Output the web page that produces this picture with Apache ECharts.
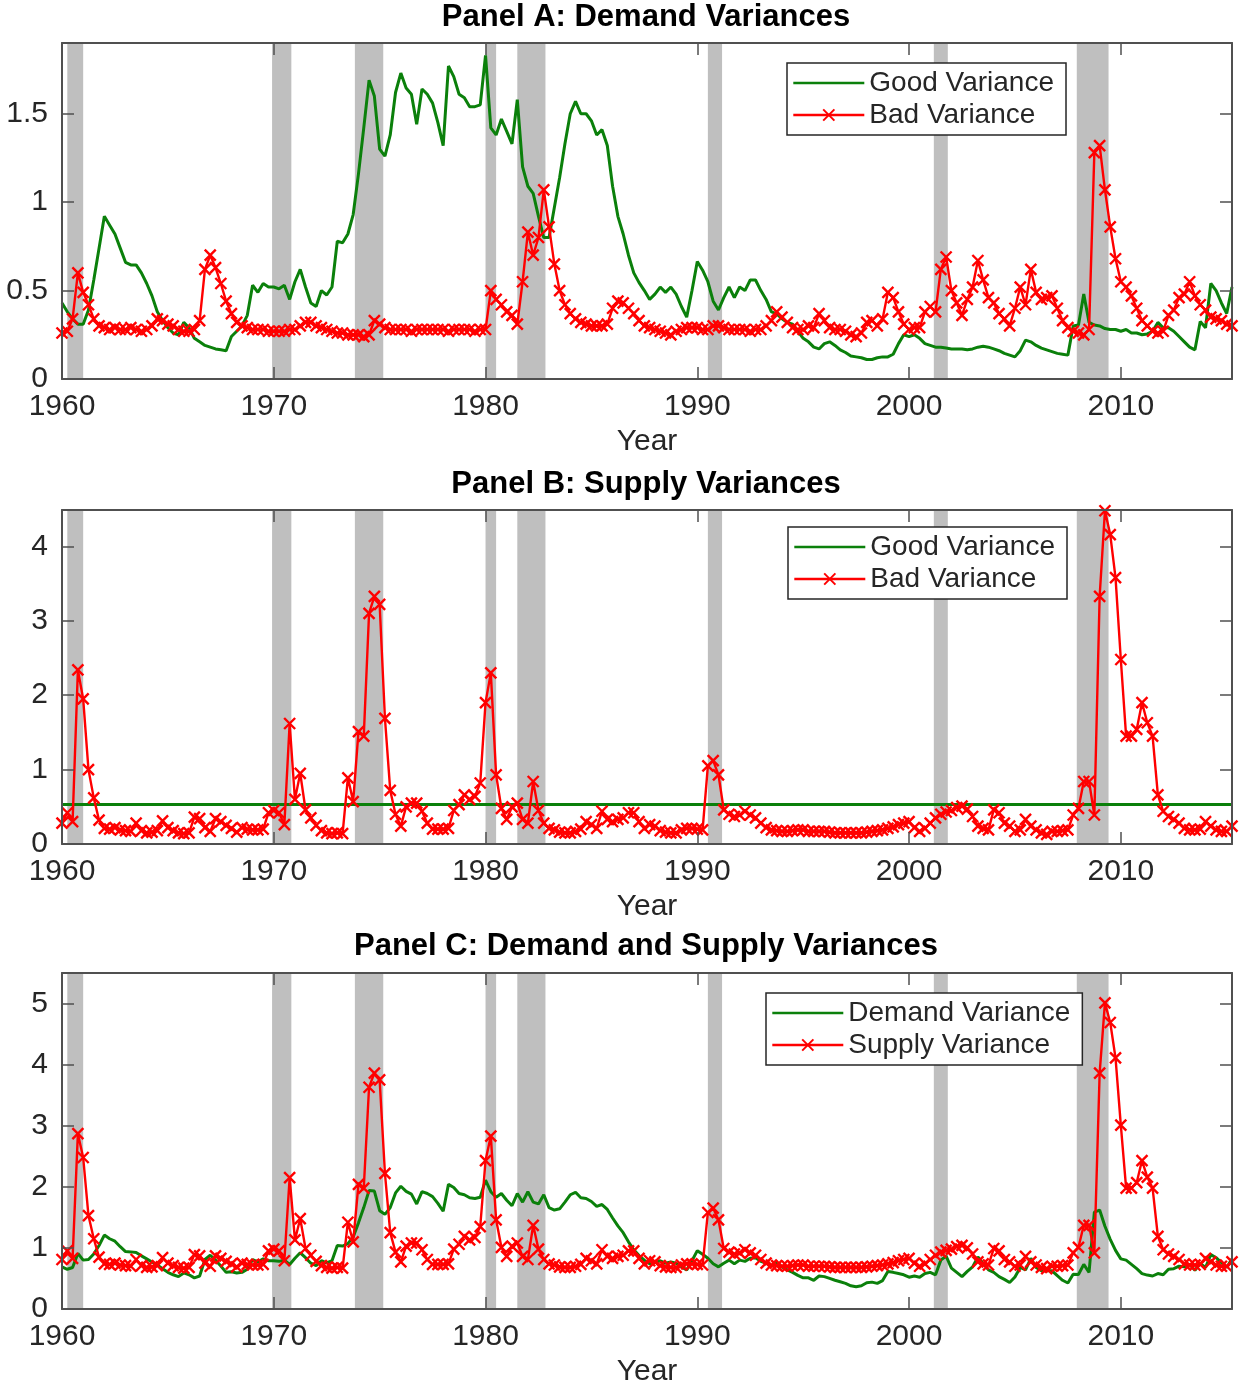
<!DOCTYPE html>
<html><head><meta charset="utf-8">
<script src="https://cdn.jsdelivr.net/npm/echarts@6/dist/echarts.min.js"></script>
<style>html,body{margin:0;padding:0;background:#fff}#c{width:1239px;height:1389px}</style>
</head><body><div id="c"></div>
<script>
// ---------- DATA (quarterly, 1960Q1 .. 2015Q2) ----------
const startYear = 1960;
const endYear = 2015.25;
const xTicks = [1960, 1970, 1980, 1990, 2000, 2010];
const recessions = [[1960.25,1961.0],[1969.92,1970.83],[1973.83,1975.17],[1980.0,1980.5],[1981.5,1982.83],[1990.5,1991.17],[2001.17,2001.83],[2007.92,2009.42]];

const goodDemand = [
0.43,0.38,0.34,0.31, 0.31,0.39,0.56,0.74, 0.92,0.87,0.82,0.74, 0.66,0.645,0.645,0.60, 0.54,0.47,0.38,0.33,
0.29,0.26,0.25,0.32, 0.29,0.23,0.21,0.19, 0.18,0.17,0.165,0.16, 0.24,0.27,0.30,0.36, 0.53,0.49,0.54,0.52,
0.52,0.51,0.53,0.45, 0.55,0.62,0.52,0.43, 0.41,0.50,0.475,0.52, 0.78,0.77,0.82,0.93, 1.16,1.42,1.69,1.60,
1.30,1.26,1.38,1.62, 1.73,1.645,1.61,1.44, 1.64,1.61,1.56,1.45, 1.32,1.77,1.71,1.61, 1.59,1.54,1.54,1.55,
1.83,1.42,1.38,1.47, 1.40,1.33,1.58,1.20, 1.09,1.05,0.92,0.80, 0.80,0.97,1.14,1.33, 1.50,1.57,1.50,1.50,
1.46,1.38,1.41,1.32, 1.09,0.92,0.82,0.70, 0.60,0.545,0.50,0.45, 0.48,0.52,0.49,0.52, 0.48,0.41,0.35,0.50,
0.665,0.615,0.55,0.44, 0.39,0.46,0.52,0.46, 0.52,0.50,0.56,0.56, 0.50,0.45,0.38,0.37, 0.34,0.32,0.31,0.27,
0.23,0.21,0.18,0.17, 0.20,0.21,0.19,0.165, 0.15,0.13,0.125,0.12, 0.11,0.11,0.12,0.125, 0.125,0.14,0.20,0.25,
0.24,0.25,0.23,0.20, 0.19,0.18,0.18,0.175, 0.17,0.17,0.17,0.165, 0.17,0.18,0.185,0.18, 0.17,0.16,0.145,0.135,
0.125,0.16,0.22,0.21, 0.19,0.175,0.165,0.155, 0.145,0.14,0.135,0.30, 0.305,0.48,0.32,0.305, 0.30,0.285,0.28,0.28,
0.27,0.28,0.26,0.26, 0.25,0.255,0.27,0.32, 0.29,0.29,0.27,0.24, 0.21,0.18,0.165,0.325, 0.29,0.54,0.50,0.43,
0.37,0.52];

const badDemand = [
0.26,0.27,0.34,0.60, 0.49,0.42,0.34,0.30, 0.29,0.28,0.29,0.28, 0.28,0.29,0.28,0.27, 0.28,0.30,0.34,0.33,
0.31,0.30,0.28,0.27, 0.27,0.28,0.33,0.62, 0.70,0.63,0.54,0.44, 0.37,0.32,0.30,0.29, 0.28,0.28,0.28,0.27,
0.27,0.27,0.27,0.28, 0.28,0.30,0.32,0.32, 0.30,0.29,0.28,0.27, 0.26,0.26,0.25,0.25, 0.25,0.24,0.25,0.33,
0.31,0.29,0.28,0.28, 0.28,0.28,0.27,0.28, 0.28,0.28,0.28,0.28, 0.28,0.27,0.28,0.28, 0.28,0.28,0.27,0.28,
0.28,0.50,0.45,0.42, 0.38,0.36,0.31,0.55, 0.83,0.70,0.80,1.07, 0.86,0.65,0.50,0.42, 0.37,0.34,0.32,0.31,
0.30,0.30,0.30,0.31, 0.40,0.44,0.43,0.40, 0.37,0.33,0.30,0.29, 0.28,0.27,0.26,0.25, 0.27,0.28,0.29,0.29,
0.29,0.28,0.28,0.30, 0.30,0.29,0.28,0.28, 0.28,0.28,0.27,0.28, 0.28,0.30,0.33,0.38, 0.35,0.32,0.29,0.28,
0.28,0.30,0.29,0.37, 0.33,0.29,0.28,0.28, 0.27,0.25,0.24,0.26, 0.32,0.33,0.30,0.34, 0.49,0.46,0.38,0.31,
0.28,0.29,0.29,0.38, 0.41,0.38,0.62,0.69, 0.50,0.43,0.36,0.45, 0.52,0.67,0.56,0.46, 0.43,0.37,0.34,0.30,
0.40,0.52,0.42,0.62, 0.49,0.45,0.46,0.47, 0.40,0.33,0.29,0.27, 0.26,0.25,0.28,1.28, 1.32,1.07,0.86,0.68,
0.55,0.52,0.47,0.40, 0.33,0.30,0.27,0.26, 0.27,0.36,0.39,0.46, 0.48,0.55,0.47,0.42, 0.39,0.35,0.34,0.33,
0.31,0.30];

const goodSupply = 0.53;

const badSupply = [
0.28,0.42,0.30,2.34, 1.95,1.00,0.62,0.32, 0.21,0.20,0.22,0.19, 0.18,0.17,0.28,0.18, 0.15,0.16,0.18,0.31,
0.22,0.18,0.15,0.14, 0.15,0.36,0.34,0.22, 0.17,0.34,0.30,0.25, 0.21,0.16,0.22,0.20, 0.19,0.19,0.20,0.42,
0.45,0.42,0.26,1.62, 0.60,0.95,0.46,0.35, 0.25,0.18,0.15,0.14, 0.15,0.14,0.89,0.57, 1.51,1.45,3.10,3.33,
3.22,1.69,0.72,0.40, 0.24,0.50,0.55,0.55, 0.44,0.28,0.20,0.20, 0.20,0.21,0.45,0.53, 0.66,0.60,0.64,0.82,
1.90,2.30,0.93,0.48, 0.33,0.50,0.55,0.33, 0.28,0.84,0.45,0.28, 0.21,0.19,0.16,0.15, 0.15,0.17,0.20,0.30,
0.26,0.21,0.44,0.33, 0.30,0.33,0.35,0.42, 0.42,0.30,0.21,0.26, 0.24,0.18,0.16,0.15, 0.15,0.19,0.21,0.21,
0.20,0.19,1.05,1.12, 0.93,0.46,0.40,0.37, 0.39,0.44,0.39,0.35, 0.28,0.22,0.19,0.18, 0.17,0.17,0.18,0.19,
0.19,0.17,0.17,0.17, 0.17,0.16,0.15,0.15, 0.15,0.15,0.15,0.15, 0.16,0.17,0.18,0.19, 0.21,0.23,0.26,0.28,
0.30,0.22,0.17,0.21, 0.28,0.35,0.40,0.43, 0.45,0.49,0.51,0.47, 0.37,0.24,0.21,0.19, 0.46,0.42,0.28,0.24,
0.17,0.19,0.33,0.24, 0.19,0.15,0.13,0.17, 0.17,0.18,0.19,0.39, 0.48,0.84,0.84,0.39, 3.33,4.48,4.16,3.58,
2.48,1.45,1.45,1.54, 1.90,1.63,1.45,0.66, 0.44,0.37,0.33,0.28, 0.21,0.19,0.19,0.20, 0.30,0.24,0.19,0.17,
0.17,0.24];

const demandTotal = [
0.69,0.65,0.68,0.91, 0.80,0.81,0.90,1.04, 1.21,1.15,1.11,1.02, 0.94,0.935,0.925,0.87, 0.82,0.77,0.72,0.66,
0.60,0.56,0.53,0.59, 0.56,0.51,0.54,0.81, 0.88,0.80,0.705,0.60, 0.61,0.59,0.60,0.65, 0.81,0.77,0.82,0.79,
0.79,0.78,0.80,0.73, 0.83,0.92,0.84,0.75, 0.71,0.79,0.755,0.79, 1.04,1.03,1.07,1.18, 1.41,1.66,1.94,1.93,
1.61,1.55,1.66,1.90, 2.01,1.925,1.88,1.72, 1.92,1.89,1.84,1.73, 1.60,2.04,1.99,1.89, 1.87,1.82,1.81,1.83,
2.11,1.92,1.83,1.89, 1.78,1.69,1.89,1.75, 1.92,1.75,1.72,1.87, 1.66,1.62,1.64,1.75, 1.87,1.91,1.82,1.81,
1.76,1.68,1.71,1.63, 1.49,1.36,1.25,1.10, 0.97,0.875,0.80,0.74, 0.76,0.79,0.75,0.77, 0.75,0.69,0.64,0.79,
0.955,0.895,0.83,0.74, 0.69,0.75,0.80,0.74, 0.80,0.78,0.83,0.84, 0.78,0.75,0.71,0.75, 0.69,0.64,0.60,0.55,
0.51,0.51,0.47,0.54, 0.53,0.50,0.47,0.445, 0.42,0.38,0.365,0.38, 0.43,0.44,0.42,0.465, 0.615,0.60,0.58,0.56,
0.52,0.54,0.52,0.58, 0.60,0.56,0.80,0.865, 0.67,0.60,0.53,0.615, 0.69,0.85,0.745,0.64, 0.60,0.53,0.485,0.435,
0.525,0.68,0.64,0.83, 0.68,0.625,0.625,0.625, 0.545,0.47,0.425,0.57, 0.565,0.73,0.60,1.585, 1.62,1.355,1.14,0.96,
0.82,0.80,0.73,0.66, 0.58,0.555,0.54,0.58, 0.56,0.65,0.66,0.70, 0.69,0.73,0.635,0.745, 0.68,0.89,0.84,0.76,
0.68,0.82];

const supplyTotal = [
0.81,0.95,0.83,2.87, 2.48,1.53,1.15,0.85, 0.74,0.73,0.75,0.72, 0.71,0.70,0.81,0.71, 0.68,0.69,0.71,0.84,
0.75,0.71,0.68,0.67, 0.68,0.89,0.87,0.75, 0.70,0.87,0.83,0.78, 0.74,0.69,0.75,0.73, 0.72,0.72,0.73,0.95,
0.98,0.95,0.79,2.15, 1.13,1.48,0.99,0.88, 0.78,0.71,0.68,0.67, 0.68,0.67,1.42,1.10, 2.04,1.98,3.63,3.86,
3.75,2.22,1.25,0.93, 0.77,1.03,1.08,1.08, 0.97,0.81,0.73,0.73, 0.73,0.74,0.98,1.06, 1.19,1.13,1.17,1.35,
2.43,2.83,1.46,1.01, 0.86,1.03,1.08,0.86, 0.81,1.37,0.98,0.81, 0.74,0.72,0.69,0.68, 0.68,0.70,0.73,0.83,
0.79,0.74,0.97,0.86, 0.83,0.86,0.88,0.95, 0.95,0.83,0.74,0.79, 0.77,0.71,0.69,0.68, 0.68,0.72,0.74,0.74,
0.73,0.72,1.58,1.65, 1.46,0.99,0.93,0.90, 0.92,0.97,0.92,0.88, 0.81,0.75,0.72,0.71, 0.70,0.70,0.71,0.72,
0.72,0.70,0.70,0.70, 0.70,0.69,0.68,0.68, 0.68,0.68,0.68,0.68, 0.69,0.70,0.71,0.72, 0.74,0.76,0.79,0.81,
0.83,0.75,0.70,0.74, 0.81,0.88,0.93,0.96, 0.98,1.02,1.04,1.00, 0.90,0.77,0.74,0.72, 0.99,0.95,0.81,0.77,
0.70,0.72,0.86,0.77, 0.72,0.68,0.66,0.70, 0.70,0.71,0.72,0.92, 1.01,1.37,1.37,0.92, 3.86,5.01,4.69,4.11,
3.01,1.98,1.98,2.07, 2.43,2.16,1.98,1.19, 0.97,0.90,0.86,0.81, 0.74,0.72,0.72,0.73, 0.83,0.77,0.72,0.70,
0.70,0.77];

const panelTitles = ['Panel A: Demand Variances', 'Panel B: Supply Variances', 'Panel C: Demand and Supply Variances'];
const legendNames = [['Good Variance', 'Bad Variance'], ['Good Variance', 'Bad Variance'], ['Demand Variance', 'Supply Variance']];
const yMaxes = [1.9, 4.49, 5.5];
const yIntervals = [0.5, 1, 1];

// ---------- STYLE / LAYOUT ----------
const FONT = "'Liberation Sans', Arial, Helvetica, sans-serif";
const GREEN = '#0b800b';
const RED = '#ff0000';
const AXIS = '#505050';
const BAND = '#bfbfbf';
const X_MARK = 'path://M0,0L10,10M10,0L0,10';

const quarters = goodDemand.map((_, i) => startYear + i * 0.25);
const pairs = vals => vals.map((v, i) => [quarters[i], v]);

const layouts = [
  {top: 43, height: 336, titleY: 17, legend: {left: 787, top: 63}},
  {top: 510, height: 334, titleY: 484, legend: {left: 788, top: 527}},
  {top: 973, height: 336, titleY: 946, legend: {left: 766, top: 993}}
];
const greens = [pairs(goodDemand), [[startYear, goodSupply], [endYear, goodSupply]], pairs(demandTotal)];
const reds = [pairs(badDemand), pairs(badSupply), pairs(supplyTotal)];

const option = {animation: false, backgroundColor: '#fff', grid: [], xAxis: [], yAxis: [], series: [], legend: [], graphic: []};

layouts.forEach((L, k) => {
  option.grid.push({left: 62, width: 1170, top: L.top, height: L.height});
  const axisLine = {show: true, onZero: false, lineStyle: {color: AXIS, width: 2}};
  const axisTick = {show: true, inside: true, length: 12, lineStyle: {color: AXIS, width: 1.5}};
  const lab = {fontFamily: FONT, fontSize: 30, color: '#262626'};
  option.xAxis.push({gridIndex: k, type: 'value', min: startYear, max: endYear, interval: 10, position: 'bottom',
    axisLine, axisTick, splitLine: {show: false}, z: 10,
    axisLabel: Object.assign({}, lab, {margin: 13, showMaxLabel: false, formatter: v => (xTicks.indexOf(v) >= 0 ? String(v) : '')}),
    name: 'Year', nameLocation: 'middle', nameGap: 48, nameTextStyle: Object.assign({}, lab)});
  option.xAxis.push({gridIndex: k, type: 'value', min: startYear, max: endYear, interval: 10, position: 'top',
    axisLine, axisTick, splitLine: {show: false}, axisLabel: {show: false}, z: 10});
  option.yAxis.push({gridIndex: k, type: 'value', min: 0, max: yMaxes[k], interval: yIntervals[k], position: 'left',
    axisLine, axisTick, splitLine: {show: false}, z: 10,
    axisLabel: Object.assign({}, lab, {margin: 14, showMaxLabel: false, formatter: v => String(v)})});
  option.yAxis.push({gridIndex: k, type: 'value', min: 0, max: yMaxes[k], interval: yIntervals[k], position: 'right',
    axisLine, axisTick, splitLine: {show: false}, axisLabel: {show: false}, z: 10});
  const xi = 2 * k, yi = 2 * k;
  option.series.push({type: 'custom', xAxisIndex: xi, yAxisIndex: yi, data: recessions, encode: {x: [0, 1]}, silent: true, z: 1,
    renderItem: (params, api) => {
      const p0 = api.coord([api.value(0), 0]);
      const p1 = api.coord([api.value(1), 0]);
      const cs = params.coordSys;
      return {type: 'rect', shape: {x: p0[0], y: cs.y, width: p1[0] - p0[0], height: cs.height}, style: {fill: BAND}};
    }});
  option.series.push({type: 'line', name: legendNames[k][0], xAxisIndex: xi, yAxisIndex: yi, data: greens[k],
    symbol: 'none', lineStyle: {color: GREEN, width: 3}, itemStyle: {color: GREEN}, z: 3, silent: true});
  option.series.push({type: 'line', name: legendNames[k][1], xAxisIndex: xi, yAxisIndex: yi, data: reds[k],
    symbol: X_MARK, symbolSize: 11, showSymbol: true, lineStyle: {color: RED, width: 2.4},
    itemStyle: {color: RED, borderColor: RED, borderWidth: 2.4}, z: 4, silent: true});
  option.legend.push({orient: 'vertical', left: L.legend.left, top: L.legend.top, padding: [6, 12, 6, 5],
    itemWidth: 71, itemHeight: 14, itemGap: 4, borderColor: '#262626', borderWidth: 1.5, backgroundColor: '#fff',
    selectedMode: false, z: 20, lineStyle: {width: 2.6},
    textStyle: {fontFamily: FONT, fontSize: 28, color: '#262626'},
    data: [{name: legendNames[k][0], itemStyle: {opacity: 0}}, {name: legendNames[k][1]}]});
  option.graphic.push({type: 'text', x: 646, y: L.titleY, z: 30,
    style: {text: panelTitles[k], font: 'bold 31px ' + FONT, fill: '#000', align: 'center', verticalAlign: 'middle'}});
});

const chart = echarts.init(document.getElementById('c'), null, {renderer: 'canvas'});
chart.setOption(option);
</script>
</body></html>
